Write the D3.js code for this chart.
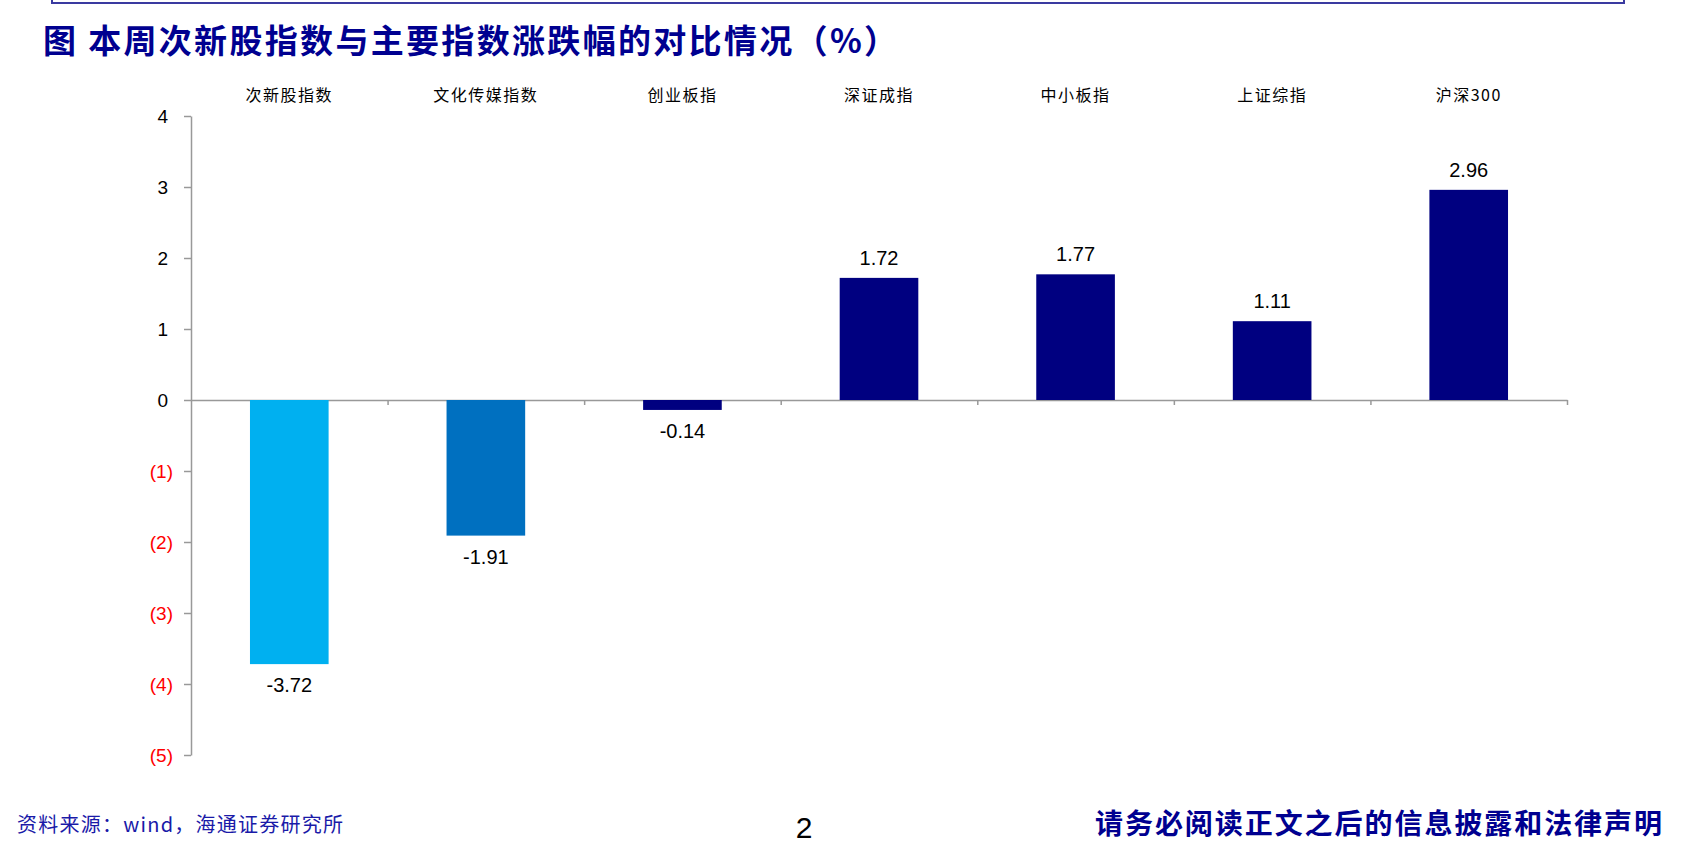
<!DOCTYPE html>
<html><head><meta charset="utf-8">
<script src="https://cdn.jsdelivr.net/npm/d3@7/dist/d3.min.js"></script>
<style>
html,body{margin:0;padding:0;background:#fff;}
svg{display:block;}
</style></head>
<body>
<svg id="chart" width="1684" height="845"></svg>
<script>
const categories = ["次新股指数","文化传媒指数","创业板指","深证成指","中小板指","上证综指","沪深300"];
const values = [-3.72,-1.91,-0.14,1.72,1.77,1.11,2.96];
const barColors = ["#00B0F0","#0070C0","#000080","#000080","#000080","#000080","#000080"];
const yTicks = [-5,-4,-3,-2,-1,0,1,2,3,4];
const titleText = "图 本周次新股指数与主要指数涨跌幅的对比情况（%）";
const sourceText = "资料来源：wind，海通证券研究所";
const disclaimerText = "请务必阅读正文之后的信息披露和法律声明";
const pageNumber = "2";

const svg = d3.select("#chart");
const navy = "#000090";
const cjk = "'Noto Sans CJK SC','Noto Sans',sans-serif";
const latin = "'Liberation Sans',Arial,sans-serif";

// top frame
svg.append("path")
  .attr("d","M52,-5 L52,3 L1624,3 L1624,-5")
  .attr("fill","none").attr("stroke","#3a3aa0").attr("stroke-width",2);

// title
svg.append("text")
  .attr("x",43).attr("y",39).attr("dominant-baseline","central")
  .attr("font-family",cjk).attr("font-weight","bold").attr("font-size",33)
  .attr("fill",navy)
  .attr("textLength",854).attr("lengthAdjust","spacing")
  .text(titleText);

const x = d3.scaleBand().domain(categories).range([191,1567]).paddingInner(0).paddingOuter(0);
const y = d3.scaleLinear().domain([-5,4]).range([755,116]);
const barW = x.bandwidth()*0.4;

// y axis
const yAxis = d3.axisLeft(y).tickValues(yTicks).tickSize(7).tickSizeOuter(0)
  .tickFormat(d => d < 0 ? "(" + Math.abs(d) + ")" : String(d));
const gy = svg.append("g").attr("transform","translate(191,0)").call(yAxis);
gy.select(".domain").attr("stroke","#999").attr("stroke-width",1.5);
gy.selectAll(".tick line").attr("stroke","#999").attr("stroke-width",1.5);
gy.selectAll(".tick text")
  .attr("font-family",latin).attr("font-size",19)
  .attr("fill",d => d < 0 ? "#FF0000" : "#000")
  .attr("x",d => d < 0 ? -18 : -23)
  .attr("dy","0.35em");

// x axis at zero (ticks at band boundaries)
const xi = d3.scaleLinear().domain([0,categories.length]).range([191,1567]);
const xAxis = d3.axisBottom(xi).tickValues(d3.range(1,categories.length+1)).tickSize(5).tickSizeOuter(0).tickFormat("");
const gx = svg.append("g").attr("transform",`translate(0,${y(0)})`).call(xAxis);
gx.select(".domain").attr("stroke","#999").attr("stroke-width",1.5);
gx.selectAll(".tick line").attr("stroke","#999").attr("stroke-width",1.5);

// bars
svg.append("g").selectAll("rect").data(values).join("rect")
  .attr("x",(d,i)=>x(categories[i]) + (x.bandwidth()-barW)/2)
  .attr("y",d=>y(Math.max(0,d)))
  .attr("width",barW)
  .attr("height",d=>Math.abs(y(d)-y(0)))
  .attr("fill",(d,i)=>barColors[i]);

// value labels
svg.append("g").selectAll("text").data(values).join("text")
  .attr("x",(d,i)=>x(categories[i]) + x.bandwidth()/2)
  .attr("y",d=> d>=0 ? y(d)-13 : y(d)+28)
  .attr("text-anchor","middle")
  .attr("font-family",latin).attr("font-size",20).attr("fill","#000")
  .text(d=>d.toFixed(2));

// category labels at top
svg.append("g").selectAll("text").data(categories).join("text")
  .attr("x",d=>x(d)+x.bandwidth()/2)
  .attr("y",94).attr("dominant-baseline","central")
  .attr("text-anchor","middle")
  .attr("font-family",cjk).attr("font-size",16).attr("letter-spacing",1.5).attr("fill","#000")
  .text(d=>d);

// footer
svg.append("text")
  .attr("x",17).attr("y",823).attr("dominant-baseline","central")
  .attr("font-family",cjk).attr("font-size",20).attr("fill","#1a1aa8")
  .attr("textLength",326).attr("lengthAdjust","spacing")
  .text(sourceText);

svg.append("text")
  .attr("x",804).attr("y",838).attr("text-anchor","middle")
  .attr("font-family",latin).attr("font-size",30).attr("fill","#000")
  .text(pageNumber);

svg.append("text")
  .attr("x",1095).attr("y",822).attr("dominant-baseline","central")
  .attr("font-family",cjk).attr("font-weight","bold").attr("font-size",28).attr("fill",navy)
  .attr("textLength",567).attr("lengthAdjust","spacing")
  .text(disclaimerText);
</script>
</body></html>
